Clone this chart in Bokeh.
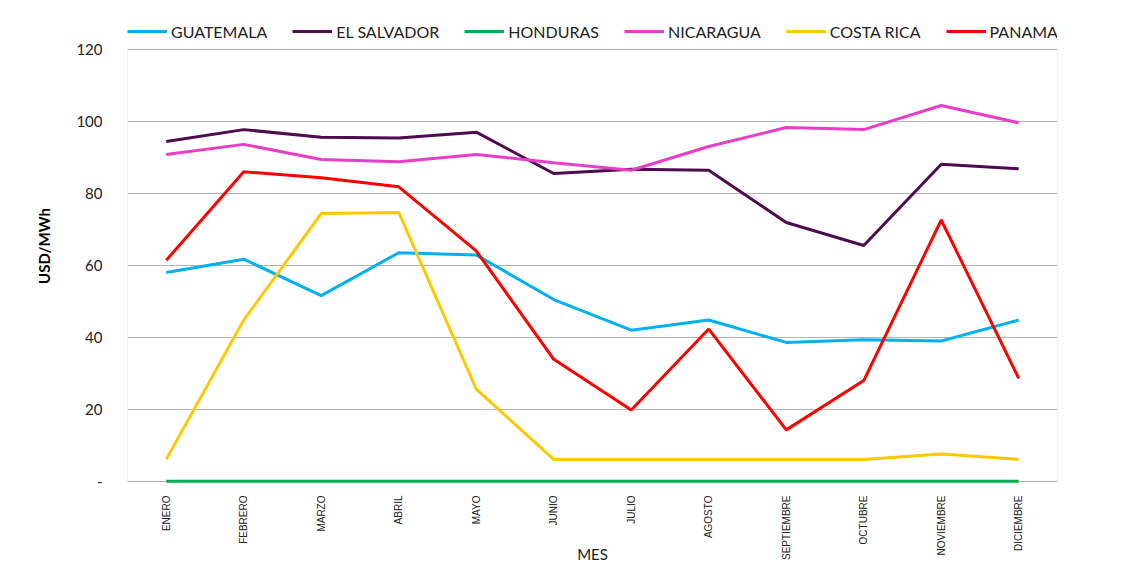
import math
from bokeh.plotting import figure
from bokeh.models import (FactorRange, Range1d, FixedTicker, Legend, LegendItem,
                          BoxAnnotation)
from bokeh.embed import file_html
from bokeh.resources import INLINE

months = ["ENERO", "FEBRERO", "MARZO", "ABRIL", "MAYO", "JUNIO", "JULIO",
          "AGOSTO", "SEPTIEMBRE", "OCTUBRE", "NOVIEMBRE", "DICIEMBRE"]

guatemala = [58.0, 61.7, 51.6, 63.5, 62.9, 50.5, 42.0, 44.8, 38.6, 39.3, 39.0, 44.8]
el_salvador = [94.4, 97.7, 95.6, 95.4, 97.0, 85.5, 86.7, 86.4, 71.9, 65.5, 88.1, 86.8]
honduras = [0, 0, 0, 0, 0, 0, 0, 0, 0, 0, 0, 0]
nicaragua = [90.8, 93.6, 89.4, 88.8, 90.8, 88.5, 86.4, 93.0, 98.3, 97.7, 104.4, 99.6]
costa_rica = [6.1, 44.8, 74.4, 74.7, 25.6, 6.1, 6.1, 6.1, 6.1, 6.1, 7.6, 6.1]
panama = [61.4, 86.0, 84.3, 81.8, 64.0, 33.9, 19.8, 42.3, 14.3, 28.0, 72.6, 28.6]

series = [
    ("GUATEMALA", guatemala, "#00B0F0"),
    ("EL SALVADOR", el_salvador, "#4E0B50"),
    ("HONDURAS", honduras, "#00B050"),
    ("NICARAGUA", nicaragua, "#E83DC8"),
    ("COSTA RICA", costa_rica, "#FFC800"),
    ("PANAMA", panama, "#FF0000"),
]

y_ticks = [0, 20, 40, 60, 80, 100, 120]
y_min, y_max = 0, 120

# frame extends above the plotting area to host the legend
px_per_unit = 3.6
frame_h = 573 - 8 - 90
y_start = -0.6
y_end = y_start + frame_h / px_per_unit

p = figure(width=1121, height=573, x_range=FactorRange(*months, range_padding=0),
           y_range=Range1d(y_start, y_end), output_backend="svg",
           toolbar_location=None,
           min_border_left=127, min_border_right=64, min_border_top=8,
           min_border_bottom=90)

p.outline_line_color = None
p.xgrid.grid_line_color = None
p.ygrid.grid_line_color = "#B4B4B4"
p.ygrid.grid_line_width = 1

# plot-area border (0..120)
p.add_layout(BoxAnnotation(bottom=y_min, top=y_max, fill_color=None,
                           line_color="#A6A6A6", line_width=1, level="underlay"))

p.yaxis.ticker = FixedTicker(ticks=y_ticks)
p.yaxis.major_label_overrides = {0: "-"}
p.yaxis.axis_line_color = None
p.yaxis.major_tick_line_color = None
p.yaxis.minor_tick_line_color = None
p.yaxis.major_label_text_font = "Lato"
p.yaxis.major_label_text_font_size = "15px"
p.yaxis.major_label_text_color = "#222222"
p.yaxis.major_label_standoff = 19
p.yaxis.axis_label = "USD/MWh"
p.yaxis.axis_label_text_font = "Lato"
p.yaxis.axis_label_text_font_style = "bold"
p.yaxis.axis_label_text_font_size = "15px"
p.yaxis.axis_label_text_color = "#000000"
p.yaxis.axis_label_standoff = 20

p.xaxis.axis_line_color = None
p.xaxis.major_tick_line_color = None
p.xaxis.minor_tick_line_color = None
p.xaxis.major_tick_out = 0
p.xaxis.major_label_orientation = math.pi / 2
p.xaxis.major_label_text_font = "Liberation Sans"
p.xaxis.major_label_text_font_size = "10px"
p.xaxis.major_label_text_color = "#222222"
p.xaxis.major_label_standoff = 12
p.xaxis.axis_label = "MES"
p.xaxis.axis_label_text_font = "Lato"
p.xaxis.axis_label_text_font_style = "normal"
p.xaxis.axis_label_text_font_size = "15px"
p.xaxis.axis_label_text_color = "#222222"
p.xaxis.axis_label_standoff = -18

items = []
for name, vals, color in series:
    r = p.line(months, vals, line_color=color, line_width=3)
    items.append(LegendItem(label=name, renderers=[r]))

legend = Legend(items=items, orientation="horizontal", location=(0, 442),
                padding=0, spacing=25, glyph_width=40, glyph_height=20,
                label_height=20, label_standoff=4, margin=0,
                border_line_color=None, background_fill_alpha=0,
                label_text_font="Lato", label_text_font_size="16px",
                label_text_color="#222222")
p.add_layout(legend, "center")

open("out.html", "w").write(file_html(p, INLINE))
